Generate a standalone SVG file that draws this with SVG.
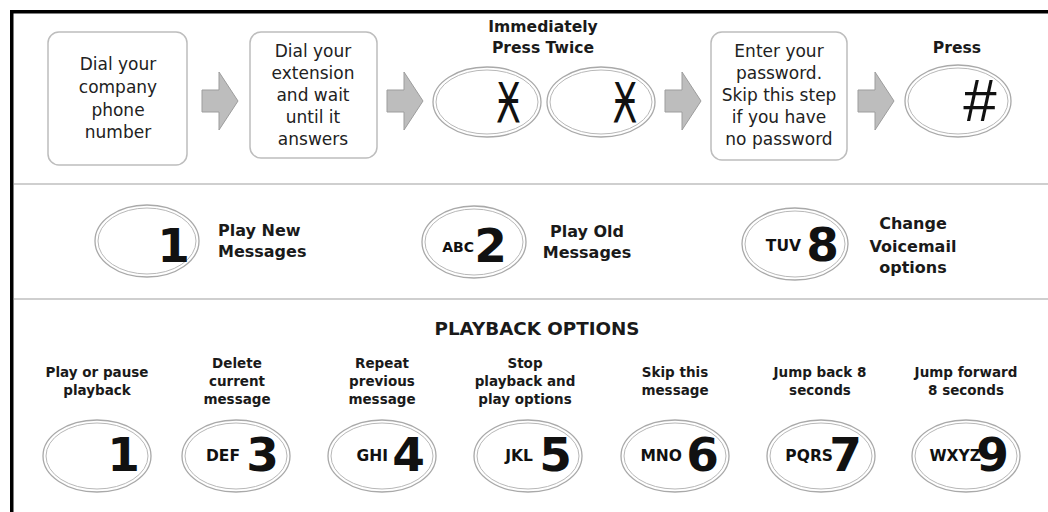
<svg xmlns="http://www.w3.org/2000/svg" width="1048" height="512" viewBox="0 0 1048 512">
<defs>
<style>
.bg{fill:#fff}
.box{fill:#fff;stroke:#bdbdbd;stroke-width:1.5}
.t{font-family:"DejaVu Sans","Liberation Sans",sans-serif;fill:#222;text-anchor:middle}
.r{font-size:17px}
.h{font-weight:700;font-size:15.6px;fill:#1a1a1a}
.m{font-weight:700;font-size:16px;fill:#1a1a1a}
.b{font-weight:700;font-size:13.5px;fill:#1a1a1a}
.s{text-anchor:start}
.ko{fill:#fff;stroke:#a9a9a9;stroke-width:1.3}
.ki{fill:none;stroke:#b8b8b8;stroke-width:1}
.dig{font-family:"DejaVu Sans","Liberation Sans",sans-serif;font-weight:700;font-size:47px;text-anchor:end;fill:#111}
.let{font-family:"DejaVu Sans","Liberation Sans",sans-serif;font-weight:700;font-size:15.5px;text-anchor:end;fill:#111}
.sym{font-family:"DejaVu Sans","Liberation Sans",sans-serif;fill:#111;text-anchor:middle}
.arr{fill:#bdbdbd;stroke:#9d9d9d;stroke-width:1}
.sep{stroke:#cfcfcf;stroke-width:2}
</style>
<path id="arrow" d="M0,-11 H17 V-29 L36,0 L17,29 V11 H0 Z"/>
</defs>
<rect class="bg" x="0" y="0" width="1048" height="512"/>
<path d="M11.75,512 V11.75 H1048" fill="none" stroke="#000" stroke-width="3.5"/>
<line class="sep" x1="14" y1="184" x2="1048" y2="184"/>
<line class="sep" x1="14" y1="299" x2="1048" y2="299"/>

<g id="connectors">
<use href="#arrow" class="arr" x="202" y="101"/>
<use href="#arrow" class="arr" x="387" y="101"/>
<use href="#arrow" class="arr" x="665" y="101"/>
<use href="#arrow" class="arr" x="858" y="101"/>
</g>

<g id="step-dial-company">
<rect class="box" x="48" y="32" width="139" height="133" rx="11"/>
<text class="t r" x="118" y="70">Dial your</text>
<text class="t r" x="118" y="93">company</text>
<text class="t r" x="118" y="116">phone</text>
<text class="t r" x="118" y="138">number</text>
</g>

<g id="step-dial-extension">
<rect class="box" x="250" y="32" width="127" height="126" rx="11"/>
<text class="t r" x="313" y="57">Dial your</text>
<text class="t r" x="313" y="79">extension</text>
<text class="t r" x="313" y="101">and wait</text>
<text class="t r" x="313" y="123">until it</text>
<text class="t r" x="313" y="145">answers</text>
</g>

<g id="step-press-twice">
<text class="t h" x="543" y="32">Immediately</text>
<text class="t h" x="543" y="53">Press Twice</text>
<ellipse class="ko" cx="487" cy="102" rx="54" ry="35"/>
<ellipse class="ki" cx="487" cy="102" rx="51" ry="32"/>
<text class="sym" font-size="55" transform="translate(508.5,122) scale(0.66,1)" x="0" y="0">Ӿ</text>
<ellipse class="ko" cx="601" cy="102" rx="54" ry="35"/>
<ellipse class="ki" cx="601" cy="102" rx="51" ry="32"/>
<text class="sym" font-size="55" transform="translate(625,122) scale(0.66,1)" x="0" y="0">Ӿ</text>
</g>

<g id="step-password">
<rect class="box" x="711" y="32" width="136" height="128" rx="11"/>
<text class="t r" x="779" y="57">Enter your</text>
<text class="t r" x="779" y="79">password.</text>
<text class="t r" x="779" y="101">Skip this step</text>
<text class="t r" x="779" y="123">if you have</text>
<text class="t r" x="779" y="145">no password</text>
</g>

<g id="step-press-hash">
<text class="t h" x="957" y="53">Press</text>
<ellipse class="ko" cx="958" cy="101" rx="53" ry="36"/>
<ellipse class="ki" cx="958" cy="101" rx="50" ry="33"/>
<text class="sym" x="980" y="121" style="font-family:'Liberation Sans',sans-serif;font-size:60px">#</text>
</g>

<g id="key-1-new">
<ellipse class="ko" cx="147" cy="241" rx="52" ry="36"/>
<ellipse class="ki" cx="147" cy="241" rx="49" ry="33"/>
<text class="dig" x="190" y="262">1</text>
<text class="t m s" x="218" y="236">Play New</text>
<text class="t m s" x="218" y="257">Messages</text>
</g>

<g id="key-2-old">
<ellipse class="ko" cx="474" cy="242" rx="52" ry="36"/>
<ellipse class="ki" cx="474" cy="242" rx="49" ry="33"/>
<text class="let" x="474" y="252" style="font-size:14px">ABC</text>
<text class="dig" x="507" y="262">2</text>
<text class="t m" x="587" y="237">Play Old</text>
<text class="t m" x="587" y="258">Messages</text>
</g>

<g id="key-8-options">
<ellipse class="ko" cx="795" cy="244" rx="53" ry="36"/>
<ellipse class="ki" cx="795" cy="244" rx="50" ry="33"/>
<text class="let" x="801" y="251">TUV</text>
<text class="dig" x="839" y="261">8</text>
<text class="t m" x="913" y="229">Change</text>
<text class="t m" x="913" y="252">Voicemail</text>
<text class="t m" x="913" y="273">options</text>
</g>

<g id="playback-title">
<text class="t" x="537" y="335" style="font-weight:700;font-size:18.3px;fill:#1a1a1a">PLAYBACK OPTIONS</text>
</g>

<g id="pb-1">
<text class="t b" x="97" y="377">Play or pause</text>
<text class="t b" x="97" y="395">playback</text>
<ellipse class="ko" cx="97" cy="456" rx="54" ry="36"/>
<ellipse class="ki" cx="97" cy="456" rx="51" ry="33"/>
<text class="dig" x="140" y="471">1</text>
</g>

<g id="pb-3">
<text class="t b" x="237" y="368">Delete</text>
<text class="t b" x="237" y="386">current</text>
<text class="t b" x="237" y="404">message</text>
<ellipse class="ko" cx="236" cy="456" rx="54" ry="36"/>
<ellipse class="ki" cx="236" cy="456" rx="51" ry="33"/>
<text class="let" x="240" y="461">DEF</text>
<text class="dig" x="279" y="471">3</text>
</g>

<g id="pb-4">
<text class="t b" x="382" y="368">Repeat</text>
<text class="t b" x="382" y="386">previous</text>
<text class="t b" x="382" y="404">message</text>
<ellipse class="ko" cx="382" cy="456" rx="54" ry="36"/>
<ellipse class="ki" cx="382" cy="456" rx="51" ry="33"/>
<text class="let" x="388" y="461">GHI</text>
<text class="dig" x="425" y="471">4</text>
</g>

<g id="pb-5">
<text class="t b" x="525" y="368">Stop</text>
<text class="t b" x="525" y="386">playback and</text>
<text class="t b" x="525" y="404">play options</text>
<ellipse class="ko" cx="528" cy="456" rx="54" ry="36"/>
<ellipse class="ki" cx="528" cy="456" rx="51" ry="33"/>
<text class="let" x="533" y="461">JKL</text>
<text class="dig" x="572" y="471">5</text>
</g>

<g id="pb-6">
<text class="t b" x="675" y="377">Skip this</text>
<text class="t b" x="675" y="395">message</text>
<ellipse class="ko" cx="675" cy="456" rx="54" ry="36"/>
<ellipse class="ki" cx="675" cy="456" rx="51" ry="33"/>
<text class="let" x="682" y="461">MNO</text>
<text class="dig" x="719" y="471">6</text>
</g>

<g id="pb-7">
<text class="t b" x="820" y="377">Jump back 8</text>
<text class="t b" x="820" y="395">seconds</text>
<ellipse class="ko" cx="821" cy="456" rx="54" ry="36"/>
<ellipse class="ki" cx="821" cy="456" rx="51" ry="33"/>
<text class="let" x="833" y="461">PQRS</text>
<text class="dig" x="862" y="471">7</text>
</g>

<g id="pb-9">
<text class="t b" x="966" y="377">Jump forward</text>
<text class="t b" x="966" y="395">8 seconds</text>
<ellipse class="ko" cx="966" cy="456" rx="54" ry="36"/>
<ellipse class="ki" cx="966" cy="456" rx="51" ry="33"/>
<text class="let" x="981" y="461">WXYZ</text>
<text class="dig" x="1009" y="471">9</text>
</g>
</svg>
